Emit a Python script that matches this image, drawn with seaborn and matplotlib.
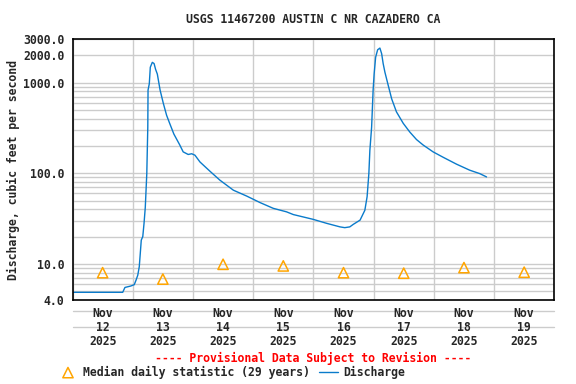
import numpy as np
import pandas as pd
import seaborn as sns
import matplotlib.pyplot as plt
import matplotlib.dates as mdates
from matplotlib.ticker import FixedLocator, NullFormatter, FuncFormatter

# discharge readings: hours after 2025-11-12 00:00, cfs
hours = [0, 20.0, 20.9, 23.2, 24.6, 25.3, 26.0, 26.6, 27.0, 27.4, 28.0, 28.5, 29.0,
         29.6, 30.0, 30.1, 30.6, 31.0, 31.8, 32.5, 33.1, 33.8, 34.9, 36.2, 37.5,
         38.8, 40.4, 42.7, 44.1, 46.1, 47.5, 48.8, 50.8, 54.8, 58.7, 64.1, 69.4,
         74.7, 80.0, 85.3, 88.0, 95.9, 101.3, 106.6, 108.5, 110.5, 111.9, 114.6,
         116.5, 117.4, 118.1, 118.5, 119.2, 119.8, 120.2, 120.8, 121.6, 122.5,
         123.2, 123.8, 124.5, 125.8, 127.2, 129.1, 131.8, 134.4, 137.1, 139.7,
         143.7, 147.7, 153.0, 158.3, 162.3, 165.0]
discharge = [4.86, 4.86, 5.5, 5.7, 5.9, 6.6, 7.5, 9.3, 13, 18.3, 20, 28, 42,
             99, 322, 826, 970, 1475, 1670, 1620, 1400, 1240, 826, 588, 435,
             350, 270, 206, 172, 161, 164, 158, 133, 105, 84, 65, 56,
             47.5, 41, 37.5, 35, 31, 28, 25.6, 25.1, 25.6, 27.3, 30.4,
             39, 55, 99, 178, 322, 826, 1240, 1900, 2300, 2400,
             2080, 1620, 1300, 935, 660, 475, 355, 285, 235, 205,
             172, 150, 126, 108, 99, 91]

median_days = ['2025-11-12', '2025-11-13', '2025-11-14', '2025-11-15',
               '2025-11-16', '2025-11-17', '2025-11-18', '2025-11-19']
median_vals = [8.0, 6.8, 9.9, 9.5, 8.0, 7.9, 9.1, 8.1]

yticks = [4, 10, 100, 1000, 2000, 3000]

start = pd.Timestamp('2025-11-12')
flow = pd.DataFrame({'time': start + pd.to_timedelta(hours, unit='h'),
                     'cfs': discharge})
med = pd.DataFrame({'time': pd.to_datetime(median_days) + pd.Timedelta(hours=12),
                    'cfs': median_vals})

sns.set_style('white')
plt.rcParams['font.family'] = ['DejaVu Sans Mono']
plt.rcParams['font.weight'] = 'bold'
plt.rcParams['axes.titleweight'] = 'bold'
plt.rcParams['axes.labelweight'] = 'bold'
plt.rcParams['font.size'] = 8.3

fig = plt.figure(figsize=(5.76, 3.84), dpi=100)
ax = fig.add_axes([0.1259, 0.2188, 0.9623 - 0.1259, 0.8977 - 0.2188])

sns.lineplot(data=flow, x='time', y='cfs', ax=ax, color='#0A7BCB', lw=1.0,
             label='Discharge', legend=False)
sns.scatterplot(data=med, x='time', y='cfs', ax=ax, marker='^', s=55,
                facecolor='none', edgecolor='#FFA500', linewidth=1.1,
                label='Median daily statistic (29 years)', legend=False)

ax.set_yscale('log')
ax.set_ylim(4, 3000)
ax.set_xlim(start, start + pd.Timedelta(days=8))

grid_y = list(range(4, 10)) + list(range(10, 100, 10)) + list(range(100, 1000, 100)) + [1000, 2000, 3000]
ax.yaxis.set_major_locator(FixedLocator(yticks))
ax.yaxis.set_major_formatter(FuncFormatter(lambda v, p: f'{v:.1f}'))
ax.yaxis.set_minor_locator(FixedLocator(grid_y))
ax.yaxis.set_minor_formatter(NullFormatter())

ax.xaxis.set_major_locator(mdates.HourLocator(byhour=12))
ax.xaxis.set_major_formatter(mdates.DateFormatter('%b\n%d\n%Y'))
ax.xaxis.set_minor_locator(mdates.DayLocator())

ax.grid(which='minor', axis='both', color='#CCCCCC', lw=1)
ax.grid(which='major', axis='y', color='#CCCCCC', lw=1)
ax.set_axisbelow(True)
ax.tick_params(which='both', length=0)
ax.tick_params(axis='x', pad=5)
ax.tick_params(axis='y', pad=6)
for lbl in ax.get_xticklabels():
    lbl.set_linespacing(1.1)
for s in ax.spines.values():
    s.set_color('black')
    s.set_linewidth(1.2)

ax.set_xlabel('')
ax.set_ylabel('Discharge, cubic feet per second', labelpad=2)
ax.set_title('USGS 11467200 AUSTIN C NR CAZADERO CA', pad=12, fontsize=8.3)

for yy in (-0.041, -0.1047):
    ax.plot([0, 1], [yy, yy], transform=ax.transAxes, clip_on=False,
            color='#CCCCCC', lw=1, zorder=0)

fig.text(0.5437, 0.066, '---- Provisional Data Subject to Revision ----',
         color='#FF0000', ha='center', va='center')

h1, l1 = ax.get_legend_handles_labels()
fig.legend([h1[1], h1[0]], [l1[1], l1[0]], loc='center left',
           bbox_to_anchor=(0.102, 0.031), ncol=2, frameon=False,
           handlelength=1.6, handletextpad=0.5, columnspacing=0.8,
           borderaxespad=0, borderpad=0)

fig.savefig('out.png', dpi=100)
